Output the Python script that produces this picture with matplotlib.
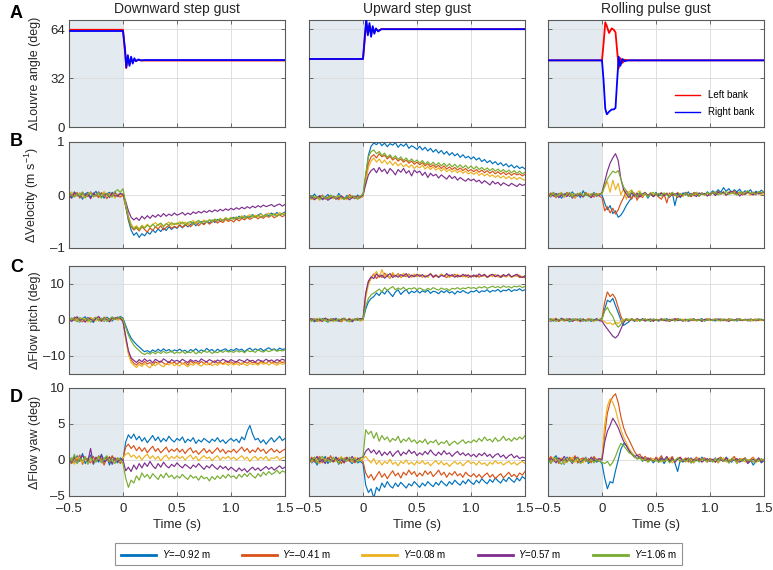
import numpy as np
import matplotlib
matplotlib.use('Agg')
import matplotlib.pyplot as plt
from matplotlib.lines import Line2D

plt.rcParams['font.family'] = ['Liberation Sans', 'DejaVu Sans']
plt.rcParams['mathtext.fontset'] = 'custom'
plt.rcParams['mathtext.rm'] = 'Liberation Sans'
plt.rcParams['mathtext.it'] = 'Liberation Sans:italic'

# sample times (s) of the flow signals, every 0.025 s
t = np.linspace(-0.5, 1.5, 81)

# ---- louvre angle (deg), read at breakpoints ----
t_lv_down = [-0.5, -0.01, 0.0, 0.02, 0.03, 0.045, 0.06, 0.075, 0.09, 0.105, 0.12, 0.14, 0.17, 0.2, 1.5]
lv_down_left = [63.6, 63.6, 63.6, 48, 38.5, 45, 41, 44.5, 42.5, 44, 43.2, 43.8, 43.5, 43.5, 43.5]
lv_down_right = [62.8, 62.8, 62.8, 50, 39, 47, 40, 46, 41.5, 45, 43, 44.2, 43.6, 43.8, 43.8]

t_lv_up = [-0.5, -0.01, 0.0, 0.015, 0.03, 0.045, 0.06, 0.075, 0.09, 0.105, 0.12, 0.14, 0.17, 0.2, 1.5]
lv_up_left = [44.5, 44.5, 44.5, 56, 68, 61, 66.5, 60.5, 65, 62, 64, 63, 64, 64, 64]
lv_up_right = [44.5, 44.5, 44.5, 58, 71, 60, 68, 59, 66, 61, 64.5, 62.5, 64, 64, 64]

t_lv_roll = [-0.5, -0.01, 0.0, 0.015, 0.03, 0.045, 0.065, 0.09, 0.11, 0.125, 0.14, 0.155, 0.17, 0.19, 0.21, 0.24, 1.5]
lv_roll_left = [43.6, 43.6, 43.6, 55, 68.5, 66, 61.5, 64.5, 63.5, 62, 50, 38.5, 45, 42, 44, 43.6, 43.6]
lv_roll_right = [43.6, 43.6, 43.6, 30, 12, 8.3, 10, 11.5, 11.5, 12.5, 30, 46, 40, 44.5, 43, 43.6, 43.6]

# ---- velocity change (m/s) ----
vel_down_1 = [0.03,-0.05,0.06,-0.02,0.04,-0.08,0.02,0.05,-0.04,0.01,0.07,-0.03,0.04,-0.06,0.02,0.05,-0.01,0.06,-0.03,0.02,
              0.02,-0.22,-0.48,-0.66,-0.76,-0.71,-0.8,-0.73,-0.77,-0.7,-0.74,-0.66,-0.71,-0.64,-0.69,-0.62,-0.67,-0.6,-0.65,-0.6,-0.63,
              -0.57,-0.62,-0.55,-0.6,-0.56,-0.52,-0.58,-0.53,-0.5,-0.55,-0.49,-0.53,-0.47,-0.52,-0.46,-0.5,-0.48,-0.43,-0.47,-0.44,
              -0.42,-0.46,-0.4,-0.44,-0.39,-0.43,-0.41,-0.37,-0.42,-0.38,-0.35,-0.4,-0.36,-0.39,-0.34,-0.38,-0.33,-0.37,-0.35,-0.32]
vel_down_2 = [-0.04,0.02,-0.01,0.05,-0.06,0.03,0.0,-0.03,0.06,-0.02,0.01,-0.05,0.04,0.02,-0.07,0.03,-0.01,0.04,-0.02,-0.04,
              0.0,-0.2,-0.45,-0.6,-0.66,-0.62,-0.68,-0.6,-0.65,-0.7,-0.62,-0.67,-0.6,-0.64,-0.58,-0.66,-0.61,-0.57,-0.63,-0.59,-0.62,
              -0.56,-0.61,-0.58,-0.54,-0.6,-0.55,-0.52,-0.58,-0.53,-0.56,-0.5,-0.55,-0.51,-0.48,-0.53,-0.49,-0.52,-0.46,-0.5,-0.47,
              -0.51,-0.45,-0.49,-0.44,-0.47,-0.42,-0.46,-0.43,-0.4,-0.45,-0.41,-0.44,-0.39,-0.42,-0.38,-0.43,-0.4,-0.37,-0.41,-0.38]
vel_down_3 = [0.01,0.06,-0.03,-0.01,0.04,-0.02,-0.06,0.03,0.05,-0.04,0.02,0.0,-0.05,0.07,-0.03,0.01,0.04,-0.06,0.02,-0.01,
              0.03,-0.18,-0.4,-0.55,-0.62,-0.58,-0.64,-0.57,-0.61,-0.55,-0.6,-0.56,-0.52,-0.58,-0.54,-0.6,-0.55,-0.51,-0.57,-0.53,-0.56,
              -0.5,-0.55,-0.51,-0.57,-0.52,-0.48,-0.54,-0.5,-0.53,-0.47,-0.51,-0.46,-0.5,-0.45,-0.49,-0.44,-0.48,-0.43,-0.46,-0.42,
              -0.45,-0.41,-0.44,-0.39,-0.43,-0.4,-0.37,-0.42,-0.38,-0.41,-0.36,-0.4,-0.37,-0.34,-0.39,-0.35,-0.38,-0.33,-0.36,-0.34]
vel_down_4 = [-0.02,-0.06,0.04,0.01,-0.03,0.05,-0.01,0.02,-0.07,0.04,-0.02,0.06,-0.04,0.0,0.03,-0.05,0.05,-0.02,-0.01,0.03,
              0.01,-0.12,-0.3,-0.42,-0.47,-0.43,-0.48,-0.4,-0.45,-0.39,-0.44,-0.38,-0.42,-0.37,-0.41,-0.35,-0.4,-0.36,-0.39,-0.34,-0.38,
              -0.36,-0.33,-0.38,-0.34,-0.37,-0.32,-0.35,-0.31,-0.34,-0.3,-0.33,-0.29,-0.32,-0.28,-0.31,-0.27,-0.3,-0.26,-0.29,-0.25,
              -0.28,-0.24,-0.27,-0.23,-0.26,-0.22,-0.25,-0.21,-0.24,-0.2,-0.23,-0.19,-0.22,-0.2,-0.18,-0.22,-0.19,-0.17,-0.21,-0.18]
vel_down_5 = [0.05,-0.01,-0.04,0.03,-0.02,0.06,-0.05,0.01,0.04,-0.03,-0.01,0.05,-0.06,0.02,0.03,-0.02,-0.04,0.06,0.1,0.05,
              0.12,-0.15,-0.42,-0.58,-0.64,-0.6,-0.66,-0.59,-0.63,-0.57,-0.61,-0.55,-0.6,-0.56,-0.53,-0.59,-0.54,-0.57,-0.52,-0.56,-0.53,
              -0.55,-0.51,-0.56,-0.52,-0.5,-0.55,-0.51,-0.48,-0.53,-0.49,-0.52,-0.47,-0.5,-0.46,-0.49,-0.45,-0.48,-0.44,-0.47,-0.43,
              -0.46,-0.42,-0.45,-0.41,-0.44,-0.4,-0.43,-0.39,-0.42,-0.38,-0.41,-0.4,-0.37,-0.41,-0.38,-0.36,-0.4,-0.37,-0.35,-0.38]

vel_up_1 = [-0.03,-0.08,0.02,-0.05,-0.01,-0.09,-0.04,0.01,-0.07,-0.02,-0.06,0.03,-0.04,-0.08,-0.01,-0.05,-0.03,-0.07,0.0,-0.04,
            -0.02,0.35,0.75,0.92,0.98,0.95,1.0,0.93,0.98,0.91,0.97,0.94,0.99,0.9,0.96,0.92,0.97,0.88,0.93,0.9,0.86,
            0.92,0.85,0.9,0.83,0.88,0.81,0.86,0.79,0.84,0.77,0.82,0.75,0.8,0.74,0.78,0.71,0.76,0.7,0.73,0.68,
            0.72,0.66,0.7,0.63,0.67,0.61,0.65,0.59,0.63,0.57,0.61,0.55,0.59,0.53,0.57,0.51,0.55,0.5,0.53,0.49]
vel_up_2 = [-0.06,-0.02,-0.07,-0.03,-0.05,0.0,-0.08,-0.04,-0.01,-0.06,-0.03,-0.09,-0.02,-0.05,-0.07,0.01,-0.04,-0.06,-0.02,-0.05,
            -0.01,0.3,0.6,0.72,0.76,0.7,0.78,0.72,0.75,0.68,0.73,0.66,0.7,0.64,0.68,0.62,0.66,0.6,0.64,0.58,0.62,
            0.57,0.61,0.55,0.59,0.53,0.57,0.52,0.56,0.5,0.55,0.49,0.53,0.48,0.52,0.47,0.51,0.46,0.5,0.45,0.48,
            0.44,0.48,0.43,0.47,0.42,0.46,0.41,0.45,0.4,0.44,0.39,0.43,0.38,0.42,0.37,0.41,0.38,0.4,0.36,0.39]
vel_up_3 = [-0.04,-0.09,-0.03,-0.06,-0.1,-0.02,-0.05,-0.08,-0.03,-0.07,-0.04,-0.01,-0.08,-0.05,-0.09,-0.03,-0.06,-0.04,-0.08,-0.05,
            -0.03,0.25,0.52,0.64,0.7,0.62,0.68,0.6,0.66,0.58,0.64,0.56,0.62,0.55,0.6,0.53,0.58,0.52,0.57,0.5,0.55,
            0.51,0.56,0.49,0.54,0.48,0.53,0.47,0.51,0.45,0.5,0.44,0.48,0.43,0.47,0.42,0.46,0.41,0.45,0.4,0.43,
            0.39,0.43,0.37,0.41,0.36,0.4,0.35,0.38,0.33,0.37,0.32,0.36,0.31,0.35,0.3,0.34,0.29,0.33,0.3,0.28]
vel_up_4 = [-0.07,-0.03,-0.09,-0.05,-0.02,-0.08,-0.04,-0.1,-0.06,-0.03,-0.08,-0.05,-0.02,-0.07,-0.04,-0.09,-0.05,-0.02,-0.07,-0.04,
            0.0,0.2,0.38,0.46,0.5,0.42,0.52,0.44,0.49,0.4,0.5,0.45,0.38,0.48,0.43,0.5,0.41,0.46,0.36,0.47,0.42,
            0.45,0.37,0.43,0.33,0.41,0.36,0.39,0.32,0.38,0.34,0.3,0.37,0.31,0.35,0.28,0.33,0.29,0.26,0.31,0.27,
            0.3,0.25,0.28,0.22,0.27,0.23,0.19,0.26,0.21,0.24,0.18,0.23,0.2,0.17,0.22,0.19,0.16,0.21,0.18,0.2]
vel_up_5 = [-0.05,-0.01,-0.06,-0.03,-0.08,-0.02,-0.05,-0.07,0.0,-0.04,-0.06,-0.02,-0.05,-0.08,-0.03,-0.06,-0.01,-0.04,-0.07,-0.02,
            0.02,0.4,0.72,0.82,0.85,0.78,0.82,0.74,0.79,0.71,0.76,0.69,0.74,0.67,0.72,0.65,0.7,0.63,0.68,0.62,0.66,
            0.6,0.65,0.58,0.63,0.57,0.62,0.56,0.61,0.55,0.6,0.54,0.59,0.53,0.58,0.52,0.57,0.51,0.56,0.5,0.55,
            0.49,0.54,0.48,0.52,0.47,0.51,0.46,0.5,0.45,0.49,0.44,0.48,0.43,0.47,0.42,0.46,0.41,0.45,0.4,0.43]

vel_roll_1 = [0.02,-0.04,0.05,-0.01,0.03,-0.06,0.01,0.04,-0.03,0.06,-0.02,0.03,-0.05,0.08,-0.01,0.02,-0.04,0.05,-0.02,0.01,
              0.0,-0.15,-0.28,-0.2,-0.35,-0.3,-0.42,-0.38,-0.3,-0.2,-0.12,-0.05,0.03,-0.04,0.05,-0.02,0.04,-0.06,0.02,-0.03,0.05,
              -0.02,0.03,0.0,0.02,-0.04,0.05,-0.2,0.03,-0.05,0.04,0.0,0.06,-0.03,0.02,0.05,-0.02,0.04,0.0,0.06,0.02,
              0.08,0.03,0.1,0.05,0.14,0.07,0.12,0.04,0.1,0.06,0.11,0.03,0.08,0.05,0.1,0.02,0.07,0.04,0.09,0.05]
vel_roll_2 = [-0.03,0.04,0.0,-0.05,0.03,0.01,-0.04,0.05,-0.02,0.02,-0.06,0.03,0.0,-0.03,0.05,-0.01,0.02,-0.04,0.03,-0.02,
              -0.05,-0.3,-0.22,-0.34,-0.25,-0.36,-0.28,-0.15,-0.05,0.08,0.03,-0.08,0.04,-0.1,0.02,-0.05,0.03,-0.02,0.04,-0.03,0.01,
              -0.04,-0.08,0.02,-0.15,0.04,-0.01,0.03,-0.05,0.02,-0.02,0.04,0.0,-0.03,0.05,0.01,-0.02,0.04,0.0,0.03,-0.01,
              0.05,0.01,0.07,0.02,0.05,-0.01,0.06,0.03,0.08,0.02,0.05,0.0,0.04,0.07,0.02,0.05,0.0,0.06,0.03,0.05]
vel_roll_3 = [0.01,-0.03,0.04,-0.02,0.0,0.05,-0.04,0.02,-0.01,0.03,-0.05,0.01,0.04,-0.02,0.0,0.03,-0.04,0.02,-0.01,0.03,
              0.02,0.15,0.25,0.05,0.28,0.1,0.22,0.0,0.12,-0.08,0.06,0.1,-0.04,0.05,0.08,-0.03,0.04,-0.02,0.05,0.0,0.03,
              0.01,0.05,-0.03,0.04,0.0,0.03,-0.02,0.05,0.01,-0.03,0.04,0.0,0.02,-0.02,0.05,0.01,0.03,-0.01,0.04,0.02,
              0.05,0.0,0.04,0.02,0.06,-0.01,0.04,0.02,0.05,0.0,0.03,0.06,0.01,0.04,-0.01,0.05,0.02,0.04,0.0,0.03]
vel_roll_4 = [-0.04,0.01,-0.02,0.03,-0.05,0.0,0.02,-0.03,0.04,-0.06,0.01,-0.02,0.03,-0.04,0.02,-0.01,-0.05,0.03,-0.02,0.0,
              0.05,0.25,0.45,0.6,0.7,0.78,0.65,0.3,0.1,0.02,-0.05,0.04,-0.02,0.03,-0.04,0.02,0.05,-0.01,0.03,-0.03,0.02,
              0.0,0.04,-0.02,0.03,-0.04,0.02,0.0,0.04,-0.03,0.01,0.05,-0.02,0.03,0.0,-0.03,0.04,0.01,0.03,-0.02,0.02,
              0.04,-0.01,0.05,0.02,0.06,0.0,0.04,0.07,0.02,0.05,-0.02,0.04,0.01,0.06,0.03,0.0,0.05,0.02,0.04,0.06]
vel_roll_5 = [0.03,-0.01,0.05,-0.03,0.02,0.04,-0.02,0.01,0.05,-0.04,0.02,0.0,0.04,-0.02,0.03,-0.03,0.01,0.04,-0.01,0.02,
              0.03,0.18,0.3,0.38,0.45,0.42,0.46,0.3,0.15,0.08,-0.02,0.08,0.02,-0.03,0.05,0.0,0.04,-0.04,0.02,0.05,-0.01,
              0.03,-0.02,0.04,0.0,-0.03,0.05,0.01,-0.02,0.03,0.0,0.04,-0.03,0.02,0.01,0.04,-0.02,0.03,0.0,0.05,0.01,
              0.03,0.06,0.0,0.04,0.02,0.07,0.01,0.05,0.03,0.0,0.06,0.02,0.04,0.08,0.03,0.05,0.01,0.06,0.04,0.07]

# ---- flow pitch change (deg) ----
pit_down_1 = [0.5,-0.3,0.8,0.1,-0.6,0.4,0.9,-0.2,0.3,-0.7,0.6,0.0,0.5,-0.4,0.8,0.2,-0.3,0.7,0.4,1.0,
              0.5,-1.5,-3.5,-5.0,-6.0,-6.8,-7.5,-8.2,-8.8,-8.5,-9.0,-8.3,-8.8,-8.1,-8.7,-8.0,-8.6,-8.2,-8.9,-8.3,-8.6,
              -8.1,-8.7,-8.4,-9.0,-8.2,-8.6,-8.0,-8.8,-8.3,-8.7,-7.9,-8.5,-8.2,-8.9,-8.1,-8.6,-8.3,-8.0,-8.7,-8.2,
              -8.5,-7.9,-8.4,-8.1,-8.8,-8.2,-7.8,-8.5,-8.0,-8.4,-7.9,-8.6,-8.1,-7.7,-8.3,-8.0,-8.5,-7.8,-8.2,-8.0]
pit_down_2 = [-0.3,0.4,-0.1,0.6,0.2,-0.5,0.3,0.0,0.7,-0.2,0.5,0.1,-0.4,0.8,0.3,-0.1,0.4,0.6,0.2,0.5,
              -0.3,-5.0,-9.0,-11.0,-12.0,-12.5,-11.7,-12.3,-11.5,-12.2,-11.8,-12.6,-11.6,-12.1,-11.4,-12.0,-12.4,-11.5,-12.1,-11.7,-12.3,
              -11.6,-12.2,-11.8,-12.5,-11.4,-12.0,-11.7,-12.3,-11.5,-12.1,-11.6,-12.4,-11.8,-11.3,-12.0,-11.7,-12.2,-11.5,-11.9,-11.6,
              -12.1,-11.5,-11.9,-12.3,-11.6,-12.0,-11.4,-11.9,-11.7,-12.2,-11.5,-11.8,-12.1,-11.4,-11.9,-11.6,-12.0,-11.5,-11.8,-11.6]
pit_down_3 = [0.4,-0.2,0.7,0.0,-0.4,0.5,0.2,-0.6,0.6,0.1,-0.3,0.7,0.3,-0.2,0.5,-0.5,0.2,0.6,-0.1,0.3,
              0.0,-5.5,-9.5,-11.8,-12.6,-13.2,-12.3,-12.9,-12.1,-12.8,-13.3,-12.2,-12.7,-12.0,-12.6,-13.0,-12.1,-12.5,-11.9,-12.7,-12.3,
              -12.8,-12.0,-12.5,-13.0,-12.2,-12.6,-11.9,-12.4,-12.8,-12.1,-12.5,-12.0,-12.7,-12.2,-12.6,-11.9,-12.4,-12.1,-12.6,-12.0,
              -12.5,-12.1,-12.6,-11.9,-12.3,-12.7,-12.0,-12.4,-12.1,-12.6,-11.8,-12.3,-12.0,-12.5,-11.9,-12.2,-12.6,-12.0,-12.3,-12.1]
pit_down_4 = [0.2,-0.4,0.5,0.9,-0.1,0.3,-0.6,0.7,0.2,-0.3,0.4,1.0,-0.2,0.5,0.1,-0.5,0.6,0.3,0.8,0.5,
              -0.5,-4.5,-8.5,-10.5,-11.2,-11.8,-11.0,-11.6,-10.8,-11.5,-11.1,-11.9,-10.9,-11.4,-11.7,-10.8,-11.3,-11.9,-11.0,-11.5,-11.2,
              -11.6,-10.9,-11.4,-11.8,-11.0,-11.5,-11.2,-11.7,-10.8,-11.3,-11.6,-11.0,-11.4,-11.8,-11.1,-11.5,-10.9,-11.3,-11.6,-11.0,
              -11.4,-11.7,-11.0,-11.3,-11.6,-10.9,-11.4,-11.2,-11.7,-11.0,-11.3,-11.5,-10.9,-11.4,-11.1,-11.6,-11.0,-11.3,-10.9,-11.2]
pit_down_5 = [-0.2,0.6,0.1,-0.5,0.7,0.3,-0.1,0.5,-0.6,0.4,0.8,-0.3,0.2,0.6,-0.4,0.3,0.9,0.1,0.5,0.8,
              0.3,-2.0,-4.2,-5.8,-7.0,-7.8,-8.5,-9.2,-9.6,-9.1,-9.5,-8.9,-9.4,-8.8,-9.3,-8.7,-9.2,-9.0,-8.6,-9.3,-8.9,
              -9.2,-8.7,-9.3,-8.8,-9.1,-8.6,-9.4,-8.9,-9.2,-8.5,-9.0,-8.7,-9.3,-8.8,-9.1,-8.6,-9.0,-8.5,-8.9,-8.7,
              -9.0,-8.5,-8.9,-8.6,-9.1,-8.4,-8.8,-8.6,-9.0,-8.3,-8.7,-8.9,-8.4,-8.8,-8.5,-8.2,-8.7,-8.4,-8.6,-8.3]

pit_up_1 = [-0.2,0.3,-0.5,0.1,-0.3,0.4,-0.1,-0.6,0.2,-0.2,0.5,-0.4,0.0,0.3,-0.3,0.1,-0.5,0.2,-0.1,0.3,
            0.0,3.0,5.0,6.0,6.5,7.5,6.8,8.0,7.2,8.3,7.4,6.5,7.8,8.4,7.1,7.9,8.5,7.3,8.0,7.6,8.2,
            7.5,8.1,7.7,8.3,7.4,8.0,7.8,7.3,8.1,7.6,8.2,7.5,7.9,7.2,8.0,7.6,8.2,7.7,7.4,8.0,
            7.8,8.3,7.6,8.1,7.9,8.4,7.7,8.2,8.0,8.5,7.8,8.3,8.1,8.6,7.9,8.4,8.2,8.7,8.1,8.4]
pit_up_2 = [0.3,-0.1,0.4,-0.4,0.2,0.0,0.5,-0.3,0.1,0.4,-0.2,0.2,-0.5,0.3,0.0,0.4,-0.2,0.1,0.5,0.0,
            0.2,7.0,10.5,11.8,12.8,11.5,12.5,11.8,13.0,12.2,11.6,12.7,12.0,12.9,11.8,12.4,12.0,12.8,11.9,12.5,12.1,
            12.6,11.9,12.4,12.1,12.8,11.8,12.3,12.0,12.7,12.2,11.8,12.5,12.1,12.7,11.9,12.4,12.0,12.6,11.8,12.3,
            12.0,12.5,11.9,12.3,12.7,11.8,12.2,12.6,12.0,12.4,11.8,12.3,12.0,12.6,11.9,12.2,12.5,11.8,12.1,11.7]
pit_up_3 = [-0.4,0.2,-0.2,0.5,-0.5,0.1,-0.3,0.3,-0.1,-0.5,0.2,-0.3,0.4,-0.2,0.1,-0.6,0.3,-0.1,0.2,-0.3,
            0.0,6.0,9.8,11.5,12.5,13.5,11.8,14.0,12.0,12.8,11.7,13.2,12.1,12.6,11.8,13.0,12.2,12.6,11.9,12.8,12.0,
            12.7,12.0,12.4,11.8,13.0,12.1,12.5,11.9,12.8,12.2,12.6,11.8,12.4,12.0,12.7,12.1,12.3,11.9,12.5,12.0,
            12.4,11.9,12.6,12.1,12.3,11.8,12.5,12.0,12.7,11.9,12.2,12.6,12.0,12.4,11.8,12.3,12.1,12.5,11.9,12.2]
pit_up_4 = [0.1,0.4,-0.3,0.2,0.0,-0.4,0.5,0.1,-0.2,0.3,0.0,-0.3,0.2,0.5,-0.1,0.2,-0.4,0.3,0.1,0.4,
            0.3,7.5,10.8,12.0,11.5,12.8,12.0,12.5,11.6,12.3,12.9,11.8,12.4,11.9,12.6,12.2,12.9,11.8,12.5,12.0,12.7,
            12.1,12.6,11.9,12.3,12.8,12.0,12.5,11.8,12.4,12.1,12.9,12.2,12.6,11.9,12.4,12.0,12.7,12.2,12.5,11.9,
            12.5,12.0,12.8,12.2,12.6,11.9,12.4,12.7,12.1,12.5,11.9,12.6,12.2,12.8,12.0,12.4,12.7,12.1,11.8,12.3]
pit_up_5 = [0.1,-0.4,0.3,-0.2,0.5,-0.1,0.2,-0.5,0.4,0.0,-0.3,0.3,-0.2,0.5,0.1,-0.4,0.2,0.0,0.4,-0.1,
            0.3,3.8,6.0,7.0,7.5,8.0,8.6,7.8,9.0,8.2,8.8,9.3,8.4,8.9,8.5,9.1,8.3,8.8,8.6,9.0,8.4,
            8.9,8.5,8.2,8.8,8.4,9.0,8.6,8.3,8.9,8.5,8.7,8.2,8.8,8.6,9.0,8.5,8.9,8.7,9.1,8.8,
            9.0,8.7,9.2,8.9,9.3,8.8,9.1,9.4,9.0,9.3,8.9,9.5,9.1,9.3,8.9,9.4,9.2,9.5,9.0,9.3]

pit_roll_1 = [0.2,-0.4,0.3,0.0,-0.3,0.5,-0.1,0.2,-0.5,0.3,0.1,-0.2,0.4,-0.3,0.0,0.3,-0.4,0.2,-0.1,0.1,
              0.3,3.0,5.5,5.0,6.0,4.0,2.0,0.0,-1.5,-1.0,-0.5,0.3,-0.4,0.2,-0.3,0.4,-0.2,0.1,-0.4,0.3,0.0,
              -0.3,0.2,-0.1,0.4,-0.4,0.1,-0.2,0.3,0.0,-0.3,0.2,-0.4,0.1,0.3,-0.2,0.0,0.4,-0.3,0.1,-0.1,
              0.2,-0.3,0.1,0.3,-0.2,0.0,-0.4,0.2,0.1,-0.3,0.3,-0.1,0.0,0.2,-0.3,0.1,-0.2,0.3,-0.1,0.1]
pit_roll_2 = [-0.3,0.2,-0.1,0.5,-0.4,0.1,0.3,-0.2,0.4,-0.3,0.0,0.3,-0.5,0.2,-0.1,0.4,0.0,-0.3,0.2,0.0,
              0.5,5.0,7.8,6.5,7.2,6.0,3.5,1.0,-0.5,0.3,-0.2,0.4,0.0,-0.3,0.2,-0.1,0.3,-0.2,0.1,-0.4,0.2,
              0.0,0.3,-0.2,0.1,-0.4,0.2,0.0,0.4,-0.1,0.2,-0.3,0.1,0.3,-0.2,0.0,0.2,-0.3,0.1,0.4,-0.1,
              0.1,0.3,-0.2,0.0,0.2,-0.3,0.4,0.0,-0.2,0.1,0.3,-0.1,0.2,-0.3,0.0,0.1,0.3,-0.2,0.2,0.0]
pit_roll_3 = [0.1,-0.2,0.4,-0.3,0.0,0.2,-0.4,0.3,0.1,-0.1,0.4,-0.3,0.2,0.0,-0.2,0.3,0.1,-0.4,0.2,-0.1,
              0.0,-0.5,-1.0,-0.8,-1.3,-0.6,-1.0,-0.3,0.2,-0.2,0.3,-0.1,0.2,-0.3,0.1,0.0,-0.2,0.3,-0.1,0.2,0.0,
              0.2,-0.1,0.3,-0.2,0.0,0.3,-0.3,0.1,-0.1,0.2,0.0,-0.2,0.3,0.1,-0.3,0.2,0.0,-0.1,0.3,-0.2,
              0.0,0.2,-0.2,0.3,-0.1,0.1,-0.3,0.2,0.0,0.3,-0.2,0.1,-0.1,0.2,0.0,-0.3,0.2,0.1,-0.2,0.1]
pit_roll_4 = [0.0,0.3,-0.3,0.2,-0.1,0.4,-0.2,0.0,0.3,-0.4,0.2,0.1,-0.2,0.3,-0.3,0.0,0.2,-0.1,0.4,-0.2,
              -0.3,-1.5,-2.5,-3.5,-4.5,-5.0,-4.2,-2.5,-0.8,0.3,-0.3,0.2,-0.2,0.4,-0.1,0.2,-0.3,0.0,0.3,-0.2,0.1,
              -0.2,0.3,0.0,-0.3,0.2,-0.1,0.4,-0.2,0.1,-0.3,0.2,0.0,-0.2,0.3,-0.1,0.1,-0.4,0.2,0.0,0.3,
              -0.2,0.1,0.3,-0.1,0.0,0.2,-0.3,0.1,-0.1,0.3,0.0,-0.2,0.2,-0.1,0.3,0.0,-0.2,0.1,0.2,-0.1]
pit_roll_5 = [-0.1,0.3,0.0,-0.4,0.2,0.1,-0.2,0.4,-0.3,0.0,0.2,-0.1,0.3,-0.2,0.1,-0.3,0.3,0.0,-0.2,0.2,
              0.2,2.5,3.5,2.0,1.0,-1.0,-2.0,-1.2,-0.3,0.4,-0.2,0.3,-0.1,0.2,-0.3,0.1,0.3,-0.2,0.0,0.2,-0.1,
              0.1,-0.2,0.3,0.0,-0.1,0.2,-0.3,0.1,0.3,-0.2,0.0,0.2,-0.1,0.3,-0.2,0.0,0.1,-0.3,0.2,0.0,
              -0.1,0.2,0.0,-0.3,0.3,0.1,-0.1,0.2,-0.2,0.0,0.3,-0.1,0.1,-0.2,0.2,0.0,-0.1,0.3,0.0,0.1]

# ---- flow yaw change (deg) ----
yaw_down_1 = [-0.8,0.3,-0.4,0.6,-0.2,0.9,-0.5,0.2,0.7,-0.6,0.1,-0.3,0.8,-0.1,0.4,-0.7,0.5,0.0,-0.4,0.3,
              0.0,2.5,3.5,3.0,3.6,2.8,3.3,2.6,3.1,2.4,2.9,3.4,2.7,3.2,2.5,3.0,2.6,3.3,2.8,2.5,3.0,
              2.7,3.2,2.4,2.9,2.6,3.1,2.3,2.8,2.5,3.0,2.7,2.4,2.9,2.6,3.1,2.5,2.8,2.3,2.7,3.0,
              2.6,2.9,2.4,3.2,2.8,4.0,4.8,3.6,2.8,3.0,2.4,2.8,2.2,2.7,3.1,2.5,2.9,3.3,2.7,3.0]
yaw_down_2 = [0.4,-0.5,0.2,-0.1,0.7,-0.6,0.3,0.0,-0.4,0.5,-0.2,0.6,0.1,-0.7,0.3,-0.3,0.6,-0.1,0.2,-0.5,
              0.2,1.8,2.2,1.6,2.0,1.3,1.8,1.2,1.7,1.0,1.5,1.9,1.2,1.6,1.0,1.4,1.8,1.1,1.5,1.2,1.6,
              1.1,1.5,0.9,1.4,1.7,1.0,1.3,0.8,1.2,1.6,1.0,1.4,0.9,1.3,1.7,1.1,1.5,0.9,1.3,1.1,
              1.5,1.0,1.4,1.8,1.2,1.6,1.0,1.4,1.1,1.7,1.2,1.5,0.9,1.3,1.6,1.1,1.4,1.0,1.3,1.5]
yaw_down_3 = [-0.3,0.2,-0.6,0.4,0.0,-0.4,0.5,-0.2,0.3,-0.5,0.1,0.4,-0.3,0.2,-0.1,0.5,-0.4,0.1,0.3,-0.2,
              0.3,0.8,1.0,0.4,0.7,0.2,0.6,0.0,0.5,0.8,0.2,0.6,0.1,0.5,-0.1,0.4,0.7,0.1,0.5,0.2,0.6,
              0.2,0.5,0.0,0.4,0.7,0.1,0.5,-0.1,0.3,0.6,0.2,0.4,-0.1,0.3,0.6,0.0,0.4,0.2,0.5,0.1,
              0.4,0.0,0.3,0.6,0.1,0.4,-0.2,0.3,0.5,0.0,0.4,0.1,0.5,-0.1,0.3,0.2,0.5,0.0,0.3,0.4]
yaw_down_4 = [0.2,-0.3,0.5,-0.4,0.1,0.6,0.3,-0.2,1.6,-0.5,0.4,-0.1,0.6,-0.3,0.0,0.4,-0.6,0.3,-0.2,0.1,
              0.0,-1.5,-1.0,-1.6,-0.7,-1.3,-0.5,-1.1,-0.4,-0.9,-0.2,-0.8,-1.2,-0.5,-1.0,-0.3,-0.8,-1.1,-0.6,-0.9,-0.4,
              -0.8,-1.1,-0.6,-0.9,-1.2,-0.7,-1.0,-0.5,-0.9,-1.3,-0.8,-1.1,-0.6,-1.0,-1.3,-0.8,-1.2,-0.9,-1.4,-1.0,
              -1.3,-1.6,-1.1,-1.5,-1.2,-1.7,-1.3,-1.0,-1.4,-1.1,-1.5,-1.2,-0.9,-1.3,-1.0,-1.4,-1.1,-0.8,-1.2,-1.0]
yaw_down_5 = [0.5,-0.2,0.8,-0.5,0.2,-0.1,0.4,-0.6,0.3,0.0,-0.3,0.5,-0.4,0.2,0.6,-0.2,0.1,-0.5,0.3,0.0,
              -0.5,-2.5,-3.8,-2.8,-3.2,-2.2,-2.8,-1.8,-2.4,-2.0,-2.6,-1.9,-2.3,-2.7,-2.0,-2.5,-1.8,-2.4,-2.1,-2.6,-2.2,
              -2.5,-2.0,-2.4,-2.7,-2.1,-2.5,-2.3,-2.8,-2.2,-2.6,-2.4,-2.9,-2.3,-2.7,-2.2,-2.6,-2.1,-2.5,-2.0,-2.4,
              -2.2,-2.6,-2.0,-2.4,-1.9,-2.3,-1.8,-2.2,-2.5,-1.9,-2.3,-1.7,-2.1,-1.6,-2.0,-1.8,-1.4,-1.9,-1.5,-1.7]

yaw_up_1 = [0.3,-0.4,0.0,-0.7,0.2,-0.3,0.5,-0.5,0.1,-0.2,0.4,-0.6,0.0,-0.3,0.3,-0.1,-0.5,0.2,-0.4,-0.2,
            -0.5,-3.5,-4.5,-4.0,-5.3,-3.8,-4.3,-3.2,-3.8,-3.0,-3.6,-3.9,-3.2,-3.7,-3.1,-3.5,-3.9,-3.3,-3.6,-3.0,-3.4,
            -3.8,-3.2,-3.6,-3.0,-3.4,-3.7,-3.1,-3.5,-2.9,-3.3,-3.6,-3.0,-3.4,-2.8,-3.2,-3.5,-2.9,-3.3,-2.7,-3.1,
            -3.4,-2.8,-3.2,-2.6,-3.0,-3.3,-2.7,-3.1,-2.5,-2.9,-3.2,-2.6,-3.0,-2.4,-2.8,-3.1,-2.5,-2.9,-2.3,-2.6]
yaw_up_2 = [-0.2,0.4,-0.3,0.1,0.5,-0.4,0.2,-0.1,0.6,-0.3,0.0,0.3,-0.5,0.2,0.4,-0.2,0.1,-0.4,0.3,0.0,
            -0.2,-1.8,-2.5,-2.0,-2.8,-2.2,-1.6,-2.4,-1.9,-2.6,-2.0,-1.5,-2.2,-1.8,-2.5,-1.7,-2.1,-1.4,-2.0,-1.6,-2.3,
            -1.8,-2.2,-1.5,-2.0,-1.6,-2.3,-1.9,-1.4,-2.1,-1.7,-2.4,-1.8,-2.1,-1.6,-2.2,-1.9,-2.4,-1.7,-2.1,-2.3,
            -1.9,-2.4,-2.0,-2.5,-2.1,-1.8,-2.4,-2.0,-2.6,-2.2,-1.9,-2.5,-2.1,-1.7,-2.3,-2.0,-2.4,-1.8,-2.1,-1.6]
yaw_up_3 = [0.1,-0.3,0.4,-0.1,-0.5,0.2,0.0,0.4,-0.3,0.3,-0.2,0.1,0.5,-0.4,0.0,0.2,-0.3,0.4,0.0,-0.1,
            0.2,0.5,0.0,-0.4,0.2,-0.6,-0.1,-0.7,-0.2,-0.5,0.1,-0.6,-0.3,-0.8,-0.2,-0.5,0.0,-0.6,-0.3,-0.7,-0.2,
            -0.5,-0.1,-0.6,-0.3,-0.8,-0.4,-0.1,-0.6,-0.2,-0.7,-0.4,-0.9,-0.5,-0.2,-0.6,-0.3,-0.8,-0.4,-0.1,-0.5,
            -0.3,-0.7,-0.2,-0.6,-0.4,-0.8,-0.3,-0.6,-0.1,-0.5,-0.3,-0.7,-0.4,-0.2,-0.6,-0.3,-0.7,-0.4,-0.2,-0.5]
yaw_up_4 = [-0.4,0.2,0.0,0.5,-0.3,0.1,-0.5,0.3,0.0,-0.2,0.4,-0.1,0.2,-0.4,0.3,0.0,0.5,-0.2,0.1,0.3,
            0.4,1.2,1.6,1.0,1.4,0.8,1.3,0.6,1.1,0.7,1.2,0.5,1.0,1.3,0.6,1.1,0.8,1.4,0.9,1.2,0.6,
            1.0,0.7,1.2,0.8,1.4,0.9,0.6,1.1,0.7,1.3,0.8,1.0,0.5,0.9,1.2,0.7,1.0,0.6,0.9,0.5,
            0.8,0.4,0.9,0.6,1.0,0.5,0.8,0.3,0.7,0.9,0.4,0.7,0.2,0.6,0.8,0.3,0.6,0.2,0.4,0.3]
yaw_up_5 = [0.3,-0.1,0.4,-0.4,0.2,0.5,-0.2,0.1,-0.3,0.4,0.0,-0.5,0.3,0.1,-0.2,0.4,-0.1,0.2,-0.3,0.2,
            0.5,4.2,3.6,4.0,3.0,3.8,2.6,3.4,2.8,3.2,2.5,3.0,2.7,3.3,2.4,2.9,2.6,3.1,2.5,2.8,2.3,
            2.7,2.4,2.9,2.2,2.6,2.4,2.8,2.1,2.5,2.3,2.7,2.0,2.4,2.6,2.2,2.5,2.8,2.3,2.6,2.4,
            2.8,2.5,3.0,2.6,3.2,2.7,2.9,2.5,3.1,2.6,2.8,3.3,2.7,3.0,2.6,3.1,2.8,3.2,2.9,3.4]

yaw_roll_1 = [0.3,-0.4,0.2,0.6,-0.3,0.1,-0.6,0.4,0.0,-0.2,0.5,-0.4,0.2,-0.1,0.4,-0.5,0.1,0.3,-0.3,0.0,
              -0.5,-2.5,-4.0,-3.0,-3.2,-1.5,0.0,1.5,2.3,2.0,1.4,1.0,0.6,0.2,0.5,-0.2,0.3,-0.1,0.2,-0.4,0.1,
              -0.3,0.2,-0.5,0.1,-0.2,0.3,-0.4,-1.6,0.0,-0.3,0.2,-0.1,0.3,-0.4,0.1,-0.2,0.4,0.0,-0.3,0.2,
              -0.1,0.3,-0.4,0.1,-0.2,0.4,0.0,-0.3,0.2,-0.5,0.1,-0.2,0.3,-0.4,0.0,-0.7,-0.2,0.2,-0.4,-0.1]
yaw_roll_2 = [-0.2,0.5,-0.1,0.3,-0.5,0.2,0.0,-0.3,0.4,-0.1,0.6,-0.4,0.1,0.3,-0.2,0.2,-0.4,0.5,0.0,-0.1,
              0.2,3.5,6.5,8.0,8.8,9.2,8.0,6.0,4.5,3.5,2.8,2.0,1.2,0.6,0.8,0.2,0.5,0.0,0.3,-0.2,0.4,
              0.1,0.6,-0.2,0.3,0.0,0.5,-0.3,0.2,0.4,-0.1,0.3,-0.3,0.2,0.0,0.4,-0.2,0.1,0.3,-0.1,0.2,
              0.0,-0.3,0.2,0.4,-0.1,0.3,-0.2,0.1,0.5,-0.2,0.2,0.0,0.3,-0.3,0.1,0.4,-0.2,0.2,0.0,0.1]
yaw_roll_3 = [0.1,-0.3,0.4,-0.2,0.0,0.3,-0.5,0.2,-0.1,0.4,-0.3,0.0,0.2,-0.4,0.3,-0.1,0.1,-0.3,0.2,0.0,
              0.3,5.0,7.5,8.5,8.0,7.0,5.5,4.2,3.2,2.4,1.6,1.0,0.5,0.2,0.4,-0.1,0.3,-0.3,0.1,0.2,-0.2,
              0.2,-0.3,0.1,-0.1,0.3,-0.4,0.0,0.2,-0.2,0.1,-0.3,0.2,0.0,-0.4,0.1,0.3,-0.2,0.0,-0.3,0.1,
              -0.2,0.2,-0.4,0.0,0.3,-0.3,0.1,-0.1,0.2,-0.5,0.0,0.2,-0.3,0.1,-0.2,0.3,-0.4,0.0,-0.2,0.1]
yaw_roll_4 = [-0.3,0.2,0.0,-0.4,0.3,-0.1,0.5,-0.2,0.1,-0.5,0.2,0.4,-0.3,0.0,0.2,-0.2,0.4,-0.1,0.0,0.2,
              0.0,2.5,4.0,4.8,5.8,5.2,4.5,3.5,2.6,2.0,1.3,0.8,0.4,0.7,0.2,0.4,-0.1,0.3,0.0,-0.2,0.2,
              -0.1,0.3,0.0,0.5,-0.2,0.2,-0.3,0.1,0.3,-0.2,0.0,0.3,-0.4,0.1,-0.1,0.2,-0.3,0.0,0.2,-0.2,
              0.1,-0.3,0.2,0.0,-0.2,0.3,-0.4,0.1,-0.1,0.2,-0.3,0.0,0.2,-0.5,-0.1,0.1,-0.2,0.3,-0.3,0.0]
yaw_roll_5 = [0.2,-0.5,0.0,0.3,-0.2,-0.6,0.1,-0.3,0.2,-0.4,0.0,0.3,-0.5,-0.1,0.2,-0.3,0.1,-0.4,0.0,-0.2,
              -0.3,-0.5,-0.2,-0.8,-0.3,0.5,1.5,2.3,2.0,1.5,1.0,0.8,0.5,0.1,0.3,-0.1,0.2,-0.3,0.0,-0.2,0.1,
              -0.3,0.0,-0.2,0.2,-0.4,0.0,-0.1,0.3,-0.3,0.1,-0.2,0.2,-0.4,-0.1,0.1,-0.3,0.2,0.0,-0.2,0.1,
              -0.3,0.1,-0.1,0.3,-0.2,0.0,-0.4,0.2,0.0,-0.3,0.1,-0.2,0.2,-0.1,0.0,-0.3,0.1,-0.2,0.2,-0.1]

titles = ['Downward step gust', 'Upward step gust', 'Rolling pulse gust']
row_letters = ['A', 'B', 'C', 'D']
ylabels = ['ΔLouvre angle (deg)', r'ΔVelocity (m s$^{-1}$)', 'ΔFlow pitch (deg)', 'ΔFlow yaw (deg)']
ylims = [(0, 70), (-1, 1), (-15, 15), (-5, 10)]
yticks = [[0, 32, 64], [-1, 0, 1], [-10, 0, 10], [-5, 0, 5, 10]]
yticklabels = [['0', '32', '64'], ['–1', '0', '1'], ['–10', '0', '10'], ['–5', '0', '5', '10']]
xticks = [-0.5, 0, 0.5, 1.0, 1.5]
xticklabels = ['–0.5', '0', '0.5', '1.0', '1.5']
y_positions = ['–0.92', '–0.41', '0.08', '0.57', '1.06']
colors = ['#0072BD', '#D95319', '#EDB120', '#7E2F8E', '#77AC30']

louvre = [(t_lv_down, lv_down_left, lv_down_right),
          (t_lv_up, lv_up_left, lv_up_right),
          (t_lv_roll, lv_roll_left, lv_roll_right)]
flow = [
    [[vel_down_1, vel_down_2, vel_down_3, vel_down_4, vel_down_5],
     [vel_up_1, vel_up_2, vel_up_3, vel_up_4, vel_up_5],
     [vel_roll_1, vel_roll_2, vel_roll_3, vel_roll_4, vel_roll_5]],
    [[pit_down_1, pit_down_2, pit_down_3, pit_down_4, pit_down_5],
     [pit_up_1, pit_up_2, pit_up_3, pit_up_4, pit_up_5],
     [pit_roll_1, pit_roll_2, pit_roll_3, pit_roll_4, pit_roll_5]],
    [[yaw_down_1, yaw_down_2, yaw_down_3, yaw_down_4, yaw_down_5],
     [yaw_up_1, yaw_up_2, yaw_up_3, yaw_up_4, yaw_up_5],
     [yaw_roll_1, yaw_roll_2, yaw_roll_3, yaw_roll_4, yaw_roll_5]],
]

W, H = 773, 570
fig = plt.figure(figsize=(W / 100, H / 100), dpi=100)

col_left = [69, 309, 548]
col_w = 216
row_top = [20, 142, 266, 388]
row_h = [107, 106, 108, 108]
row_letter_y = [14, 142, 268, 397]

axes = []
for r in range(4):
    for c in range(3):
        ax = fig.add_axes([col_left[c] / W, 1 - (row_top[r] + row_h[r]) / H, col_w / W, row_h[r] / H])
        ax.axvspan(-0.5, 0, color='#e4ebf0', lw=0, zorder=0)
        ax.set_axisbelow(True)
        ax.grid(True, color='#dedede', lw=0.7)
        ax.set_xlim(-0.5, 1.5)
        ax.set_ylim(*ylims[r])
        ax.set_xticks(xticks)
        ax.set_yticks(yticks[r])
        ax.tick_params(direction='in', top=True, right=True, length=3, width=0.6,
                       color='#555555', labelsize=9.5, labelcolor='#262626')
        ax.tick_params(axis='x', pad=5)
        ax.tick_params(axis='y', pad=3)
        for s in ax.spines.values():
            s.set_color('#5a5a5a')
            s.set_linewidth(0.8)
        if r == 3:
            ax.set_xticklabels(xticklabels)
            ax.set_xlabel('Time (s)', fontsize=9.5, labelpad=3, color='#262626')
        else:
            ax.set_xticklabels([])
        if c == 0:
            ax.set_yticklabels(yticklabels[r])
            ax.set_ylabel(ylabels[r], fontsize=9, color='#262626')
            ax.yaxis.set_label_coords(-0.13, 0.5)
        else:
            ax.set_yticklabels([])
        if r == 0:
            ax.set_title(titles[c], fontsize=10, pad=5, color='#262626')
            tt, left, right = louvre[c]
            ax.plot(tt, right, color='#0000ff', lw=1.3, zorder=3)
            ax.plot(tt, left, color='#ff0000', lw=1.3, zorder=2)
        else:
            for k, y in enumerate(flow[r - 1][c]):
                n = min(len(t), len(y))
                ax.plot(t[:n], y[:n], color=colors[k], lw=0.85)
        axes.append(ax)

# louvre legend inside the rolling panel
ax_roll = axes[2]
h = [Line2D([], [], color='#ff0000', lw=1), Line2D([], [], color='#0000ff', lw=1)]
ax_roll.legend(h, ['Left bank', 'Right bank'], loc='lower right', frameon=False, fontsize=7,
               handlelength=2.6, labelspacing=0.75, borderaxespad=0.6)

for r in range(4):
    fig.text(10 / W, 1 - row_letter_y[r] / H, row_letters[r], fontsize=13, fontweight='bold',
             ha='left', va='center')

handles = [Line2D([], [], color=col, lw=2) for col in colors]
labels = [r'$\it{Y}$=' + p + ' m' for p in y_positions]
leg = fig.legend(handles, labels, loc='center', bbox_to_anchor=(0.516, 1 - 554 / H), ncol=5,
                 fontsize=7, handlelength=3.6, handletextpad=0.6, columnspacing=3.2,
                 frameon=True, fancybox=False, edgecolor='#777777', borderpad=0.55)
leg.get_frame().set_linewidth(0.8)

fig.savefig('out.png', dpi=100)
